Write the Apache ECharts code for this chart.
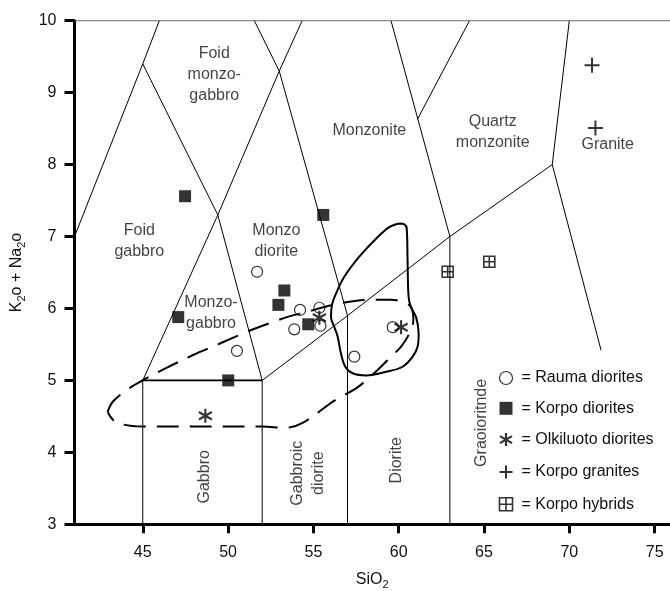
<!DOCTYPE html>
<html><head><meta charset="utf-8">
<script src="https://cdn.jsdelivr.net/npm/echarts@6/dist/echarts.min.js"></script>
<style>html,body{margin:0;padding:0;background:#fff}#c{width:670px;height:591px}</style>
</head><body><div id="c"></div>
<script>
// ---------- data ----------
const xTicks = [45, 50, 55, 60, 65, 70, 75];
const yTicks = [3, 4, 5, 6, 7, 8, 9, 10];

const seriesNames = ['Rauma diorites', 'Korpo diorites', 'Olkiluoto diorites', 'Korpo granites', 'Korpo hybrids'];

const raumaDiorites = [[51.7,6.51],[54.22,5.98],[55.35,6.01],[53.88,5.71],[55.41,5.76],[50.52,5.41],[57.4,5.33],[59.65,5.74]];
const korpoDiorites = [[47.48,7.56],[55.58,7.30],[53.3,6.25],[52.95,6.05],[54.7,5.78],[47.08,5.88],[50.01,5.00]];
const olkiluotoDiorites = [[48.67,4.51],[55.35,5.87],[60.14,5.74]];
const korpoGranites = [[71.33,9.38],[71.53,8.51]];
const korpoHybrids = [[62.87,6.51],[65.31,6.65]];

// classification field boundaries (SiO2, K2O+Na2O)
const fieldLines = [
  [[41,7],[45,9.4],[45.97,10]],
  [[45,9.4],[49.4,7.3],[52,5]],
  [[45,5],[49.4,7.3],[53,9.3],[54.34,10]],
  [[51.54,10],[53,9.3],[57,5.9]],
  [[59.55,10],[63,7]],
  [[61.1,8.63],[64.15,10]],
  [[70,10],[69,8],[71.86,5.42]],
  [[52,5],[57,5.9],[63,7],[69,8]],
  [[45,3],[45,5]],
  [[52,3],[52,5]],
  [[57,3],[57,5.9]],
  [[63,3],[63,7]]
];
const gabbroTop = [[45,5],[52,5]];
const topEdge = [[41,10],[75.9,10]];

// envelopes
const solidEnvelope = [[60.04,7.18],[60.33,7.17],[60.47,7.11],[60.52,6.67],[60.58,6.16],[60.72,6.02],[61.02,5.88],[61.17,5.65],[61.11,5.47],[60.82,5.33],[60.23,5.19],[59.26,5.12],[58.09,5.07],[57.3,5.10],[56.87,5.19],[56.62,5.37],[56.42,5.61],[56.23,5.74],[56.03,5.88],[56.09,6.05],[56.33,6.21],[56.81,6.44],[57.69,6.72],[58.67,6.97],[59.45,7.13],[60.04,7.18]];
const dashedEnvelope = [[42.94,4.56],[43.23,4.70],[44.02,4.86],[44.99,5.00],[46.36,5.17],[47.92,5.35],[49.49,5.51],[51.05,5.67],[52.61,5.81],[53.59,5.89],[54.57,5.95],[56.33,6.06],[58.28,6.12],[59.55,6.12],[60.23,6.09],[60.72,6.02],[60.86,5.84],[60.62,5.65],[60.14,5.47],[59.55,5.33],[58.87,5.17],[58.09,5.00],[57.5,4.89],[56.23,4.72],[54.37,4.41],[53.3,4.34],[52.03,4.36],[44.99,4.36],[43.43,4.42],[42.94,4.56]];

const fieldNames = ['Foid\nmonzo-\ngabbro','Foid\ngabbro','Monzo\ndiorite','Monzo-\ngabbro','Monzonite','Quartz\nmonzonite','Granite','Gabbro','Gabbroic\ndiorite','Diorite','Graoioritnde'];

// ---------- layout / styling ----------
const fieldLabelAt = [[49.19,9.245],[44.8,6.94],[52.83,6.94],[49.0,5.93],[58.28,8.47],[65.51,8.45],[72.25,8.28],[48.61,3.66],[54.7,3.71],[59.9,3.89],[64.83,4.41]];
const fieldLabelRot = [0,0,0,0,0,0,0,90,90,90,90];

const FONT = '"Liberation Sans", Arial, Helvetica, sans-serif';
const INK = '#111';
const asteriskPath = 'path://M0,-7L0,7M-6.5,-3.75L6.5,3.75M-6.5,3.75L6.5,-3.75';
const plusPath = 'path://M0,-7.5L0,7.5M-7.5,0L7.5,0';
const boxPlusPath = 'path://M-5.5,-5.5L5.5,-5.5L5.5,5.5L-5.5,5.5ZM0,-5.5L0,5.5M-5.5,0L5.5,0';

const symbolDefs = {
  'Rauma diorites':     {symbol:'circle', size:11, style:{color:'rgba(0,0,0,0)', borderColor:'#000', borderWidth:1.2}},
  'Korpo diorites':     {symbol:'rect', size:12, style:{color:'#000', borderWidth:0}},
  'Olkiluoto diorites': {symbol:asteriskPath, size:[13,14], style:{color:'none', borderColor:'#000', borderWidth:2.2}},
  'Korpo granites':     {symbol:plusPath, size:15, style:{color:'none', borderColor:'#000', borderWidth:2}},
  'Korpo hybrids':      {symbol:boxPlusPath, size:11, style:{color:'none', borderColor:'#000', borderWidth:1.6}}
};
const pointData = [raumaDiorites, korpoDiorites, olkiluotoDiorites, korpoGranites, korpoHybrids];

const series = [];
fieldLines.forEach(seg => series.push({
  type:'line', data:seg, symbol:'none', silent:true, z:2,
  lineStyle:{color:'#000', width:1}
}));
series.push({type:'line', data:gabbroTop, symbol:'none', silent:true, z:2, lineStyle:{color:'#000', width:1.8}});
series.push({type:'line', data:topEdge, symbol:'none', silent:true, z:2, lineStyle:{color:'#444', width:1}});
series.push({type:'line', data:solidEnvelope, symbol:'none', silent:true, z:3, smooth:0.35,
  lineStyle:{color:'#000', width:2}});
series.push({type:'line', data:dashedEnvelope, symbol:'none', silent:true, z:3, smooth:0.35,
  lineStyle:{color:'#000', width:2, type:[22,11]}});

series.push({
  type:'scatter', silent:true, z:4, symbolSize:1,
  itemStyle:{color:'rgba(0,0,0,0)'},
  label:{show:true, position:'inside', fontFamily:FONT, fontSize:16, color:INK, lineHeight:21, align:'center'},
  data: fieldNames.map((t,i) => ({value:fieldLabelAt[i], label:{formatter:t, rotate:fieldLabelRot[i]}}))
});

seriesNames.forEach((n,i) => {
  const d = symbolDefs[n];
  series.push({type:'scatter', name:n, data:pointData[i], symbol:d.symbol, symbolSize:d.size,
    itemStyle:d.style, z:6});
});

const chart = echarts.init(document.getElementById('c'), null, {renderer:'canvas'});
chart.setOption({
  animation:false,
  backgroundColor:'#fff',
  textStyle:{fontFamily:FONT},
  grid:{left:74.5, right:0, top:20.7, bottom:66.7, outerBoundsMode:'none', containLabel:false},
  xAxis:{
    type:'value', min:41, max:75.9,
    name:'{n|SiO}{s|2}', nameLocation:'middle', nameGap:44,
    nameTextStyle:{rich:{n:{fontFamily:FONT,fontSize:16,color:INK,lineHeight:22},s:{fontFamily:FONT,fontSize:11,color:INK,lineHeight:11,verticalAlign:'bottom'}}},
    axisLine:{show:true, onZero:false, lineStyle:{color:'#000', width:3}},
    axisTick:{show:true, inside:false, length:9, lineStyle:{color:'#000', width:3}, customValues:xTicks},
    axisLabel:{fontFamily:FONT, fontSize:16, color:INK, margin:20, customValues:xTicks},
    splitLine:{show:false}
  },
  yAxis:{
    type:'value', min:3, max:10, interval:1,
    name:'{n|K}{s|2}{n|o + Na}{s|2}{n|o}', nameLocation:'middle', nameGap:43,
    nameTextStyle:{rich:{n:{fontFamily:FONT,fontSize:16,color:INK,lineHeight:22},s:{fontFamily:FONT,fontSize:11,color:INK,lineHeight:11,verticalAlign:'bottom'}}},
    axisLine:{show:true, onZero:false, lineStyle:{color:'#000', width:3}},
    axisTick:{show:true, inside:false, length:10, lineStyle:{color:'#000', width:3}},
    axisLabel:{fontFamily:FONT, fontSize:16, color:INK, margin:18},
    splitLine:{show:false}
  },
  legend:{
    orient:'vertical', left:497, top:370, padding:0, itemWidth:13, itemHeight:13, itemGap:14.3,
    formatter:'= {name}',
    textStyle:{fontFamily:FONT, fontSize:16, color:INK, padding:[0,0,0,4]},
    data: seriesNames.map(n => ({name:n, icon:symbolDefs[n].symbol, itemStyle:symbolDefs[n].style}))
  },
  series:series
});
</script></body></html>
